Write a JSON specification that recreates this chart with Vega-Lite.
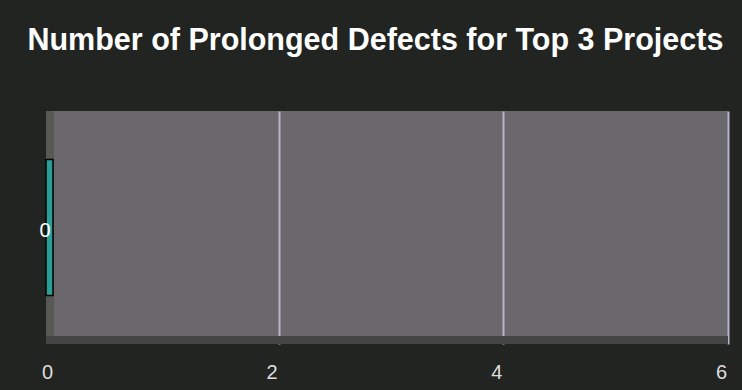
{
  "$schema": "https://vega.github.io/schema/vega-lite/v6.json",
  "autosize": {"type": "none"},
  "width": 682,
  "height": 233,
  "padding": {"left": 46, "top": 111, "right": 14, "bottom": 46},
  "background": "#222422",
  "title": {
    "text": "Number of Prolonged Defects for Top 3 Projects",
    "anchor": "start",
    "dx": -12,
    "offset": 55,
    "font": "Liberation Sans",
    "fontSize": 30.5,
    "fontWeight": "bold",
    "color": "#ffffff"
  },
  "data": {
    "values": [
      {"project": "Project 1", "defects": 0}
    ]
  },
  "layer": [
    {
      "description": "left side wall of the 3D box",
      "mark": {"type": "rect", "color": "#575955", "x2Offset": 8},
      "encoding": {
        "x": {"datum": 0, "type": "quantitative", "scale": {"domain": [0, 6], "range": [0, 674], "nice": false}},
        "x2": {"datum": 0}
      }
    },
    {
      "description": "floor of the 3D box",
      "mark": {"type": "rect", "color": "#454545", "x2Offset": 8, "yOffset": 225},
      "encoding": {
        "x": {"datum": 0, "type": "quantitative"},
        "x2": {"datum": 6}
      }
    },
    {
      "mark": {
        "type": "tick",
        "orient": "vertical",
        "thickness": 7,
        "size": 136,
        "xOffset": 3.5,
        "color": "#2a9f97",
        "opacity": 1,
        "stroke": "#000000",
        "strokeWidth": 1.5
      },
      "encoding": {
        "x": {
          "field": "defects",
          "type": "quantitative",
          "scale": {"domain": [0, 6], "range": [0, 674], "nice": false},
          "axis": {
            "title": null,
            "values": [0, 2, 4, 6],
            "format": "d",
            "domain": false,
            "ticks": false,
            "tickSize": 0,
            "tickOffset": 8,
            "labelOffset": -7,
            "labelFlush": false,
            "labelBound": false,
            "labelOverlap": false,
            "labelPadding": 18,
            "labelFont": "Liberation Sans",
            "labelFontSize": 20,
            "labelColor": "#dedede",
            "grid": true,
            "gridColor": {"condition": {"test": "datum.value == 0", "value": "transparent"}, "value": "#b8b4d0"},
            "gridWidth": 2,
            "gridOpacity": 1
          }
        },
        "y": {
          "field": "project",
          "type": "nominal",
          "scale": {"paddingInner": 0, "paddingOuter": 0.3566},
          "axis": null
        }
      }
    },
    {
      "mark": {
        "type": "text",
        "align": "center",
        "baseline": "middle",
        "dx": -1,
        "dy": 3,
        "font": "Liberation Sans",
        "fontSize": 20,
        "color": "#ffffff"
      },
      "encoding": {
        "x": {"field": "defects", "type": "quantitative"},
        "y": {"field": "project", "type": "nominal"},
        "text": {"field": "defects", "type": "quantitative", "format": "d"}
      }
    }
  ],
  "config": {
    "view": {"fill": "#6b686b", "stroke": null}
  }
}
